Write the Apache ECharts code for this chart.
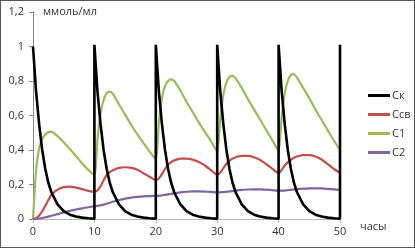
<!DOCTYPE html>
<html lang="ru">
<head>
    <title>Концентрации</title>
    <meta charset="utf-8" />
    <script src="https://cdn.jsdelivr.net/npm/echarts@6/dist/echarts.min.js"></script>
    <style>
        html, body {
            margin: 0;
            padding: 0;
            background-color: #fff;
        }

        #main {
            width: 413px;
            height: 246px;
            border: 1px solid #555;
        }
    </style>
</head>
<body>
<div id="main"></div>
<script type="text/javascript">
    // moments of the samples, hours
    const hours = [
        0, 0.5, 1, 1.5, 2, 2.5, 3, 4, 5, 6, 7, 8, 9,
        10, 10.5, 11, 11.5, 12, 12.5, 13, 14, 15, 16, 17, 18, 19,
        20, 20.5, 21, 21.5, 22, 22.5, 23, 24, 25, 26, 27, 28, 29,
        30, 30.5, 31, 31.5, 32, 32.5, 33, 34, 35, 36, 37, 38, 39,
        40, 40.5, 41, 41.5, 42, 42.5, 43, 44, 45, 46, 47, 48, 49,
        50
    ]

    const c1Values = [
        0, 0.28, 0.41, 0.465, 0.49, 0.503, 0.506, 0.48, 0.445, 0.405, 0.365, 0.322, 0.285,
        0.255, 0.46, 0.61, 0.69, 0.73, 0.738, 0.725, 0.665, 0.605, 0.545, 0.49, 0.44, 0.39,
        0.35, 0.56, 0.7, 0.77, 0.8, 0.81, 0.8, 0.745, 0.68, 0.62, 0.56, 0.505, 0.45,
        0.39, 0.58, 0.72, 0.79, 0.825, 0.83, 0.815, 0.76, 0.695, 0.635, 0.575, 0.515, 0.455,
        0.395, 0.59, 0.73, 0.8, 0.835, 0.84, 0.82, 0.76, 0.7, 0.635, 0.575, 0.515, 0.455,
        0.4
    ]

    const ccbValues = [
        0, 0.005, 0.02, 0.045, 0.075, 0.11, 0.14, 0.17, 0.185, 0.188, 0.182, 0.173, 0.163,
        0.157, 0.165, 0.19, 0.225, 0.255, 0.272, 0.283, 0.296, 0.3, 0.296, 0.285, 0.265, 0.245,
        0.226, 0.235, 0.26, 0.29, 0.315, 0.33, 0.34, 0.35, 0.35, 0.344, 0.33, 0.31, 0.283,
        0.256, 0.268, 0.295, 0.32, 0.338, 0.35, 0.358, 0.366, 0.366, 0.358, 0.342, 0.318, 0.29,
        0.265, 0.285, 0.31, 0.33, 0.343, 0.355, 0.362, 0.37, 0.37, 0.362, 0.345, 0.318, 0.29,
        0.268
    ]

    const c2Values = [
        0, 0.001, 0.003, 0.006, 0.01, 0.014, 0.019, 0.028, 0.038, 0.047, 0.055, 0.062, 0.068,
        0.074, 0.076, 0.079, 0.083, 0.088, 0.094, 0.1, 0.11, 0.118, 0.124, 0.128, 0.131, 0.133,
        0.134, 0.135, 0.137, 0.14, 0.143, 0.146, 0.149, 0.154, 0.158, 0.16, 0.16, 0.159, 0.157,
        0.154, 0.155, 0.156, 0.158, 0.16, 0.162, 0.165, 0.169, 0.171, 0.172, 0.172, 0.17, 0.167,
        0.164, 0.164, 0.165, 0.167, 0.169, 0.171, 0.173, 0.176, 0.178, 0.178, 0.177, 0.175, 0.172,
        0.168
    ]

    // Ск jumps at every dose, so its moments repeat there
    const ckHours = [
        0, 0.5, 1, 1.5, 2, 2.5, 3, 4, 5, 6, 7, 8, 9,
        10, 10, 10.5, 11, 11.5, 12, 12.5, 13, 14, 15, 16, 17, 18, 19,
        20, 20, 20.5, 21, 21.5, 22, 22.5, 23, 24, 25, 26, 27, 28, 29,
        30, 30, 30.5, 31, 31.5, 32, 32.5, 33, 34, 35, 36, 37, 38, 39,
        40, 40, 40.5, 41, 41.5, 42, 42.5, 43, 44, 45, 46, 47, 48, 49,
        50, 50
    ]

    const ckValues = [
        1, 0.74, 0.55, 0.4, 0.29, 0.21, 0.155, 0.085, 0.045, 0.025, 0.014, 0.008, 0.004,
        0.002, 1.01, 0.74, 0.55, 0.4, 0.29, 0.21, 0.155, 0.085, 0.045, 0.025, 0.014, 0.008, 0.004,
        0.002, 1.01, 0.74, 0.55, 0.4, 0.29, 0.21, 0.155, 0.085, 0.045, 0.025, 0.014, 0.008, 0.004,
        0.002, 1.01, 0.74, 0.55, 0.4, 0.29, 0.21, 0.155, 0.085, 0.045, 0.025, 0.014, 0.008, 0.004,
        0.002, 1.01, 0.74, 0.55, 0.4, 0.29, 0.21, 0.155, 0.085, 0.045, 0.025, 0.014, 0.008, 0.004,
        0.002, 1.01
    ]

    const seriesNames = ['Ск', 'Ссв', 'С1', 'С2']

    let colorCk = '#000000'
    let colorCcb = '#c0504d'
    let colorC1 = '#9bbb59'
    let colorC2 = '#8064a2'
    let fontMain = '"Open Sans", "DejaVu Sans", sans-serif'
    let textColor = '#333'

    const pairs = (xs, ys) => xs.map((x, i) => [x, ys[i]])

    let myChart = echarts.init(document.getElementById('main'), null, { renderer: 'canvas' })

    myChart.setOption({
        animation: false,
        textStyle: {
            fontFamily: fontMain,
        },
        grid: {
            left: 32,
            right: 74,
            top: 11,
            bottom: 28,
        },
        legend: {
            orient: 'vertical',
            left: 362,
            top: 84,
            icon: 'rect',
            itemWidth: 22,
            itemHeight: 3,
            itemGap: 8,
            textStyle: {
                fontSize: 11,
                color: textColor,
                padding: [0, 0, 0, -3],
            },
            data: seriesNames,
        },
        xAxis: {
            type: 'value',
            min: 0,
            max: 50,
            interval: 10,
            name: 'часы',
            nameLocation: 'end',
            nameGap: 20,
            nameTextStyle: {
                fontSize: 11,
                color: textColor,
                align: 'left',
                verticalAlign: 'top',
                padding: [2, 0, 0, 0],
            },
            axisLine: {
                lineStyle: { color: '#b4b4b4', width: 1 },
            },
            axisTick: {
                show: true,
                length: 4,
                lineStyle: { color: '#b4b4b4' },
            },
            axisLabel: {
                fontSize: 11,
                color: textColor,
                margin: 7,
            },
            splitLine: { show: false },
        },
        yAxis: {
            type: 'value',
            min: 0,
            max: 1.2,
            interval: 0.2,
            name: 'ммоль/мл',
            nameLocation: 'end',
            nameGap: 0,
            nameTextStyle: {
                fontSize: 11,
                color: textColor,
                align: 'left',
                verticalAlign: 'middle',
                padding: [0, 0, 0, 10],
            },
            axisLine: {
                show: true,
                lineStyle: { color: '#868686', width: 1 },
            },
            axisTick: {
                show: true,
                length: 4,
                lineStyle: { color: '#868686' },
            },
            axisLabel: {
                fontSize: 11,
                color: textColor,
                margin: 9,
                formatter: function (v) {
                    return String(+v.toFixed(1)).replace('.', ',')
                },
            },
            splitLine: { show: false },
        },
        series: [
            {
                name: seriesNames[0],
                type: 'line',
                symbol: 'none',
                clip: false,
                data: pairs(ckHours, ckValues),
                itemStyle: { color: colorCk },
                lineStyle: { color: colorCk, width: 2.6 },
                z: 5,
            },
            {
                name: seriesNames[1],
                type: 'line',
                symbol: 'none',
                smooth: 0.2,
                data: pairs(hours, ccbValues),
                itemStyle: { color: colorCcb },
                lineStyle: { color: colorCcb, width: 2.2 },
            },
            {
                name: seriesNames[2],
                type: 'line',
                symbol: 'none',
                smooth: 0.2,
                data: pairs(hours, c1Values),
                itemStyle: { color: colorC1 },
                lineStyle: { color: colorC1, width: 2.2 },
            },
            {
                name: seriesNames[3],
                type: 'line',
                symbol: 'none',
                smooth: 0.2,
                data: pairs(hours, c2Values),
                itemStyle: { color: colorC2 },
                lineStyle: { color: colorC2, width: 2.2 },
            },
        ],
    })
</script>
</body>
</html>
